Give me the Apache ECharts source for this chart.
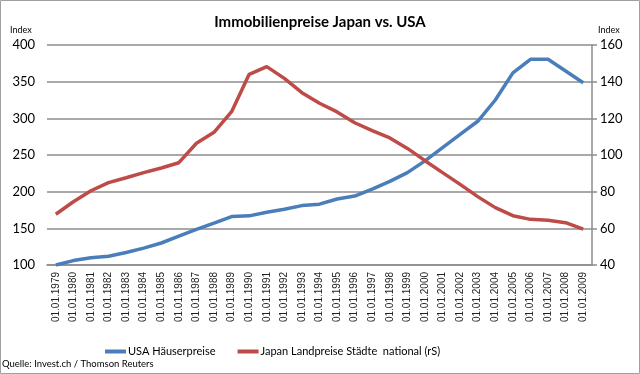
<!DOCTYPE html>
<html><head><meta charset="utf-8">
<script src="https://cdn.jsdelivr.net/npm/echarts@6/dist/echarts.min.js"></script>
<style>html,body{margin:0;padding:0;background:#fff}#c{width:640px;height:374px}</style>
</head><body><div id="c"></div>
<script>
const years = [];
for (let y = 1979; y <= 2009; y++) years.push(y);
const categories = years.map(y => '01.01.' + y);
const usaHaeuser = [100,106,110,112,117,123,130,139.5,148.5,157,166,167,172,176,181,183,190,194,203.5,214,226,242,260,278,296,325,362,380.5,380.5,364.5,348.5];
const japanLand = [67.7,74.5,80.5,84.9,87.6,90.4,92.9,95.8,106.4,112.4,123.6,144,148.2,141.8,134,128.2,123.5,117.6,113.3,109.3,103.6,96.9,90.4,84,77.3,71.3,66.9,64.9,64.4,63.1,59.6];
const leftTicks = {min:100, max:400, interval:50};
const rightTicks = {min:40, max:160, interval:20};

const chart = echarts.init(document.getElementById('c'));
const gridCol = '#8c8c8c';
chart.setOption({
  animation:false,
  backgroundColor:'#fff',
  title:{text:'Immobilienpreise Japan vs. USA', left:'center', top:10,
    textStyle:{fontFamily:'Lato', fontSize:15, fontWeight:'bold', color:'#000'}},
  grid:{left:47, right:48, top:45, bottom:109},
  legend:{bottom:12, left:100, itemWidth:21, itemHeight:4, itemGap:22, icon:'rect',
    textStyle:{fontFamily:'Lato', fontSize:11, color:'#000', padding:[0,0,0,-3]},
    data:['USA Häuserpreise','Japan Landpreise Städte  national (rS)']},
  xAxis:{type:'category', data:categories, boundaryGap:true,
    axisLine:{lineStyle:{color:gridCol, width:1.5}},
    axisTick:{show:false},
    axisLabel:{rotate:90, interval:0, fontFamily:'Liberation Sans', fontSize:10, color:'#222', margin:7}},
  yAxis:[
    {type:'value', min:leftTicks.min, max:leftTicks.max, interval:leftTicks.interval,
      axisLine:{show:false}, axisTick:{show:false},
      splitLine:{lineStyle:{color:gridCol, width:1.5}},
      axisLabel:{fontFamily:'Lato', fontSize:13, color:'#000', margin:12}},
    {type:'value', min:rightTicks.min, max:rightTicks.max, interval:rightTicks.interval, position:'right',
      axisLine:{show:true, lineStyle:{color:gridCol, width:1.5}},
      axisTick:{show:true, length:5, lineStyle:{color:gridCol, width:1.5}},
      splitLine:{show:false},
      axisLabel:{fontFamily:'Lato', fontSize:13, color:'#000', margin:8}}
  ],
  series:[
    {name:'USA Häuserpreise', type:'line', data:usaHaeuser, yAxisIndex:0, showSymbol:false,
      itemStyle:{color:'#4a7ebb'}, lineStyle:{color:'#4a7ebb', width:3.5}},
    {name:'Japan Landpreise Städte  national (rS)', type:'line', data:japanLand, yAxisIndex:1, showSymbol:false,
      itemStyle:{color:'#be4b48'}, lineStyle:{color:'#be4b48', width:3.5}}
  ],
  graphic:[
    {type:'rect', shape:{x:0.5,y:0.5,width:639,height:373}, style:{fill:null, stroke:'#a0a0a0', lineWidth:1}, silent:true},
    {type:'text', left:10, top:26, style:{text:'Index', fontFamily:'Lato', fontSize:9, fill:'#000'}},
    {type:'text', left:598, top:26, style:{text:'Index', fontFamily:'Lato', fontSize:9, fill:'#000'}},
    {type:'text', left:2, top:359, style:{text:'Quelle: Invest.ch / Thomson Reuters', fontFamily:'Lato', fontSize:9.5, fill:'#000'}}
  ]
});
</script></body></html>
